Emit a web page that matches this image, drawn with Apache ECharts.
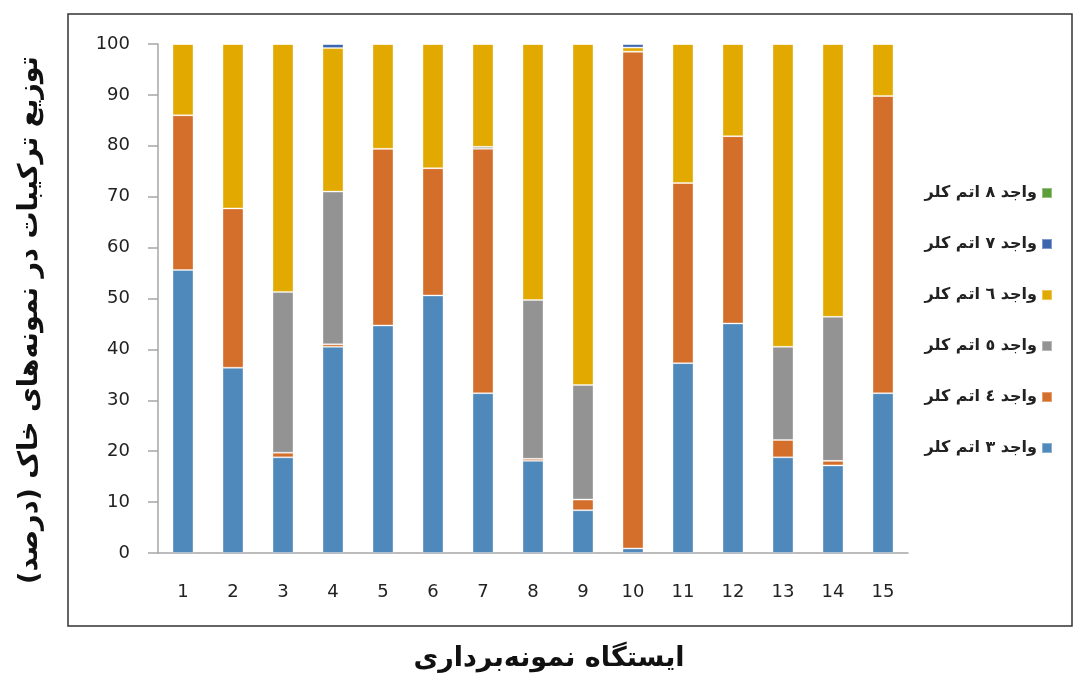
<!DOCTYPE html>
<html>
<head>
<meta charset="utf-8">
<script src="https://cdn.jsdelivr.net/npm/echarts@6/dist/echarts.min.js"></script>
<style>
  html, body { margin: 0; padding: 0; background: #fff; }
  #chart { width: 1075px; height: 678px; }
</style>
</head>
<body>
<div id="chart"></div>
<script>
// ایستگاه‌ها
const stations = ["1", "2", "3", "4", "5", "6", "7", "8", "9", "10", "11", "12", "13", "14", "15"];
const yTicks = [0, 10, 20, 30, 40, 50, 60, 70, 80, 90, 100];

// درصد هر گروه (خوانده شده از تصویر)
const cl3 = [55.6, 36.4, 18.8, 40.5, 44.7, 50.6, 31.4, 18.1, 8.4, 0.9, 37.3, 45.1, 18.8, 17.2, 31.4];
const cl4 = [30.4, 31.3, 0.9, 0.5, 34.7, 25.0, 48.0, 0.4, 2.1, 97.6, 35.4, 36.8, 3.4, 0.9, 58.4];
const cl5 = [0, 0, 31.6, 30.0, 0, 0, 0.4, 31.2, 22.5, 0, 0, 0, 18.3, 28.3, 0];
const cl6 = [14.0, 32.3, 48.7, 28.2, 20.6, 24.4, 20.2, 50.3, 67.0, 0.8, 27.3, 18.1, 59.5, 53.6, 10.2];
const cl7 = [0, 0, 0, 0.8, 0, 0, 0, 0, 0, 0.7, 0, 0, 0, 0, 0];
const cl8 = [0, 0, 0, 0, 0, 0, 0, 0, 0, 0, 0, 0, 0, 0, 0];

const names = ["واجد ٣ اتم کلر", "واجد ٤ اتم کلر", "واجد ٥ اتم کلر", "واجد ٦ اتم کلر", "واجد ٧ اتم کلر", "واجد ٨ اتم کلر"];
const colors = ["#4f88bb", "#d46e2b", "#939393", "#e2aa00", "#3d66b0", "#5e9e3a"];
const values = [cl3, cl4, cl5, cl6, cl7, cl8];

const font = "'DejaVu Sans', Tahoma, sans-serif";

const chart = echarts.init(document.getElementById("chart"));

const series = values.map((v, i) => ({
  name: names[i],
  type: "bar",
  stack: "total",
  barWidth: 21,
  data: v,
  itemStyle: { color: colors[i], borderColor: "rgba(255,255,255,0.35)", borderWidth: 1 },
  emphasis: { disabled: true }
}));

chart.setOption({
  animation: false,
  grid: { left: 158, right: 167, top: 44, bottom: 125 },
  legend: {
    orient: "vertical",
    right: 17,
    top: 180,
    align: "right",
    itemWidth: 10,
    itemHeight: 10,
    itemGap: 35,
    icon: "rect",
    data: names.slice().reverse(),
    textStyle: { fontFamily: font, fontSize: 16, fontWeight: "bold", color: "#222", lineHeight: 16 }
  },
  xAxis: {
    type: "category",
    data: stations,
    axisLine: { lineStyle: { color: "#a6a6a6", width: 1.5 } },
    axisTick: { length: 9, lineStyle: { color: "#a6a6a6", width: 1.5 } },
    axisLabel: { margin: 30, fontSize: 18, color: "#222", fontFamily: font }
  },
  yAxis: {
    type: "value",
    min: yTicks[0],
    max: yTicks[yTicks.length - 1],
    interval: 10,
    splitLine: { show: false },
    axisLine: { show: true, lineStyle: { color: "#a6a6a6", width: 1.5 } },
    axisTick: { show: true, length: 10, lineStyle: { color: "#a6a6a6", width: 1.5 } },
    axisLabel: { margin: 28, fontSize: 18, color: "#222", fontFamily: font }
  },
  graphic: [
    {
      type: "rect",
      shape: { x: 68, y: 14, width: 1004, height: 612 },
      style: { fill: "none", stroke: "#333", lineWidth: 1.5 },
      silent: true
    },
    {
      type: "text",
      x: 30, y: 320,
      rotation: Math.PI / 2,
      style: {
        text: "توزیع ترکیبات در نمونه‌های خاک (درصد)",
        font: "bold 27px " + font,
        fill: "#111",
        align: "center",
        verticalAlign: "middle"
      }
    },
    {
      type: "text",
      x: 549, y: 659,
      style: {
        text: "ایستگاه نمونه‌برداری",
        font: "bold 27px " + font,
        fill: "#111",
        align: "center",
        verticalAlign: "middle"
      }
    }
  ],
  series: series
});
</script>
</body>
</html>
